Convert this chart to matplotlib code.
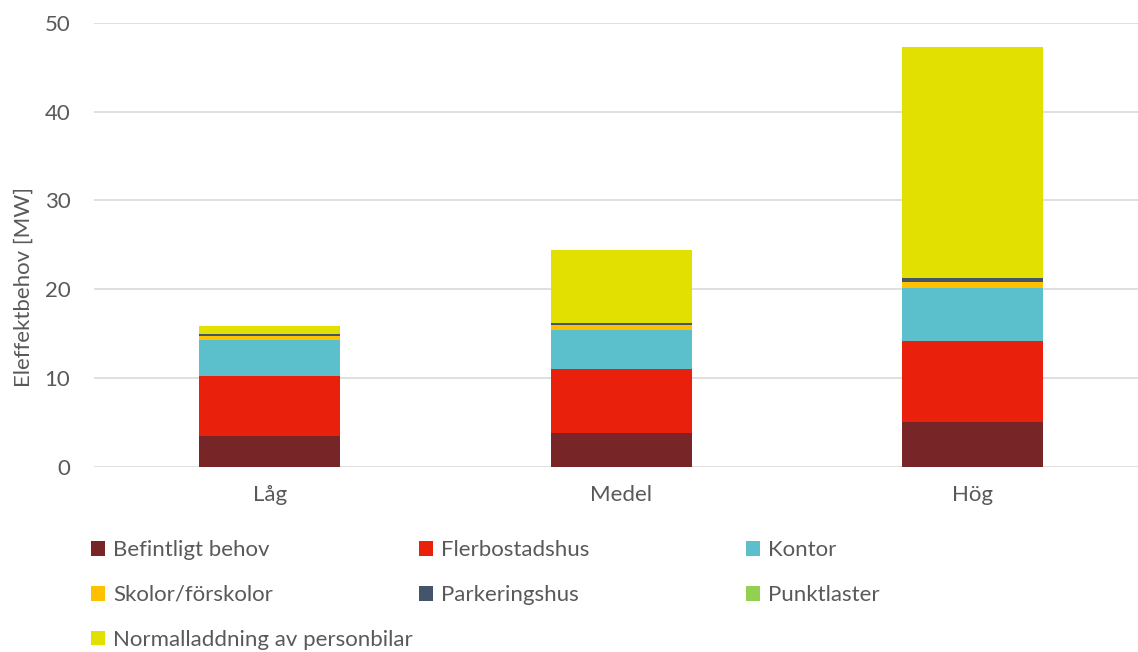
import matplotlib.pyplot as plt
import numpy as np

plt.rcParams['font.family'] = ['Lato', 'DejaVu Sans']

categories = ['Låg', 'Medel', 'Hög']
series_names = ['Befintligt behov', 'Flerbostadshus', 'Kontor', 'Skolor/förskolor',
                'Parkeringshus', 'Punktlaster', 'Normalladdning av personbilar']
befintligt = [3.45, 3.76, 5.0]
flerbostadshus = [6.77, 7.26, 9.14]
kontor = [4.0, 4.4, 5.94]
skolor = [0.55, 0.53, 0.68]
parkering = [0.2, 0.22, 0.53]
punktlaster = [0.0, 0.0, 0.0]
normalladdning = [0.85, 8.28, 25.99]

colors = ['#772527', '#E8200C', '#5BC0CB', '#FFC000', '#44546A', '#92D050', '#E2E000']
values = [befintligt, flerbostadshus, kontor, skolor, parkering, punktlaster, normalladdning]

TEXT = '#595959'
FS = 16
fig = plt.figure(figsize=(11.38, 6.52), dpi=100)
ax = fig.add_axes([94 / 1138, 1 - 466.6 / 652, 1 - 94 / 1138, (466.6 - 23) / 652])

x = np.arange(len(categories))
bottom = np.zeros(len(categories))
handles = []
for name, vals, c in zip(series_names, values, colors):
    b = ax.bar(x, vals, width=0.40, bottom=bottom, color=c, label=name, zorder=3)
    handles.append(b)
    bottom += np.array(vals)

ax.set_ylim(0, 50)
ax.set_xlim(-0.5, (1138 - 94) / 351.5 - 0.5)
ax.set_yticks(range(0, 51, 10))
ax.set_xticks(x)
ax.set_xticklabels(categories)
ax.grid(axis='y', color='#D9D9D9', linewidth=1.2, zorder=0)
for s in ax.spines.values():
    s.set_visible(False)
ax.tick_params(axis='both', length=0, labelsize=FS, colors=TEXT)
ax.tick_params(axis='y', pad=17)
ax.tick_params(axis='x', pad=13)
ax.set_ylabel('Eleffektbehov [MW]', fontsize=FS, color=TEXT)
ax.yaxis.set_label_coords(-0.058, 0.405)

# legend in three columns, placed like the original
cols = [([0, 3, 6], 91), ([1, 4], 419), ([2, 5], 746)]
for idx, xpix in cols:
    leg = fig.legend([handles[i] for i in idx], [series_names[i] for i in idx],
                     loc='upper left', bbox_to_anchor=(xpix / 1138, 1 - 540 / 652),
                     frameon=False, fontsize=FS, labelcolor=TEXT,
                     handlelength=0.65, handleheight=0.65, handletextpad=0.35,
                     labelspacing=1.12, borderaxespad=0, borderpad=0)

fig.savefig('out.png', dpi=100)
